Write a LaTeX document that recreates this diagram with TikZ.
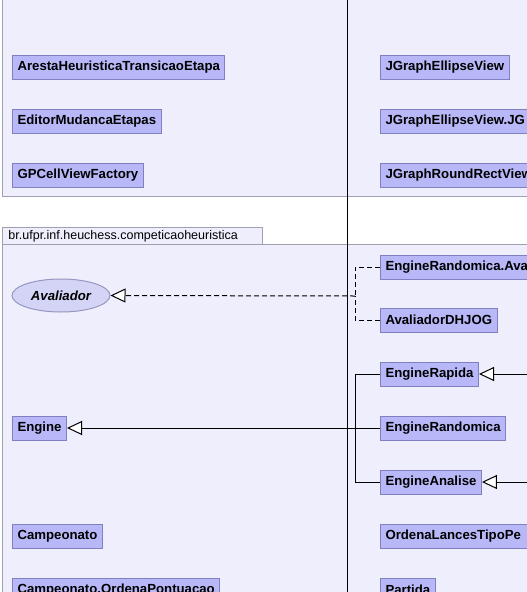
\documentclass[tikz,border=0pt]{standalone}
\usepackage{fontspec}
\setmainfont{Liberation Sans}
\usetikzlibrary{arrows.meta,shapes.geometric}

\definecolor{pacoteFundo}{RGB}{238,238,252}
\definecolor{pacoteBorda}{RGB}{160,160,176}
\definecolor{classeFundo}{RGB}{184,184,248}
\definecolor{classeBorda}{RGB}{128,128,192}
\definecolor{elipseFundo}{RGB}{212,212,246}
\definecolor{elipseBorda}{RGB}{150,150,190}

\begin{document}
\begin{tikzpicture}[x=1pt, y=-1pt, line width=1pt,
  classe/.style={draw=classeBorda, fill=classeFundo, anchor=west,
    inner xsep=5pt, inner ysep=0pt, minimum height=24pt,
    font=\fontsize{13.2}{15}\selectfont\bfseries},
  cortada/.style={classe, text width=170pt, align=left},
  heranca/.style={draw=black, -{Triangle[fill=white, length=15pt, width=14pt]}},
  realiza/.style={heranca, dash pattern=on 5pt off 3pt}]

% Frame
\useasboundingbox (0,0) rectangle (527,592);
\clip (0,0) rectangle (527,592);
\fill[white] (0,0) rectangle (527,592);

% Packages
\filldraw[fill=pacoteFundo, draw=pacoteBorda] (2.5,-10) rectangle (560,196.5);
\filldraw[fill=pacoteFundo, draw=pacoteBorda] (2.5,227.5) rectangle (262.5,244.5);
\filldraw[fill=pacoteFundo, draw=pacoteBorda] (2.5,244.5) rectangle (560,620);
\node[anchor=west, inner sep=0pt, font=\fontsize{12.5}{14}\selectfont]
  (nomePacote) at (8,236) {br.ufpr.inf.heuchess.competicaoheuristica};

% Divider
\draw (347.5,0) -- (347.5,592);

% Classes, upper package
\node[classe] (AHTE) at (12,67) {ArestaHeuristicaTransicaoEtapa};
\node[classe] (EME) at (12,121) {EditorMudancaEtapas};
\node[classe] (GCVF) at (12,175) {GPCellViewFactory};
\node[classe] (JEV) at (380,67) {JGraphEllipseView};
\node[cortada] (JEVJG) at (380,121) {JGraphEllipseView.JG};
\node[cortada] (JRRV) at (380,175) {JGraphRoundRectView};

% Classes, competicaoheuristica
\node[cortada] (ERA) at (380,267) {EngineRandomica.Ava};
\node[ellipse, draw=elipseBorda, fill=elipseFundo, minimum width=98pt,
  minimum height=33pt, inner sep=0pt,
  font=\fontsize{13.2}{15}\selectfont\bfseries\itshape]
  (Aval) at (61,295.5) {Avaliador};
\node[classe] (ADH) at (380,320) {AvaliadorDHJOG};
\node[classe] (ERapida) at (380,374) {EngineRapida};
\node[classe] (Engine) at (12,428) {Engine};
\node[classe] (ERandomica) at (380,428) {EngineRandomica};
\node[classe] (EAnalise) at (380,482) {EngineAnalise};
\node[classe] (Camp) at (12,536) {Campeonato};
\node[cortada] (OLTP) at (380,536) {OrdenaLancesTipoPe};
\node[classe] (COP) at (12,590) {Campeonato.OrdenaPontuacao};
\node[classe] (Part) at (380,590) {Partida};

% Realizations of Avaliador
\coordinate (jA) at (355,296);
\draw[dash pattern=on 5pt off 3pt] (ERA.west) -| (jA);
\draw[dash pattern=on 5pt off 3pt] (ADH.west) -| (jA);
\draw[realiza] (jA) -- (Aval.east);

% Subclasses of Engine
\coordinate (jE) at (355,428);
\draw (ERapida.west) -| (jE);
\draw (EAnalise.west) -| (jE);
\draw[heranca] (ERandomica.west) -- (Engine.east);

% Subclasses coming from the right
\coordinate (fR1) at (540,374);
\coordinate (fR2) at (540,482);
\draw[heranca] (fR1) -- (ERapida.east);
\draw[heranca] (fR2) -- (EAnalise.east);

\end{tikzpicture}
\end{document}
